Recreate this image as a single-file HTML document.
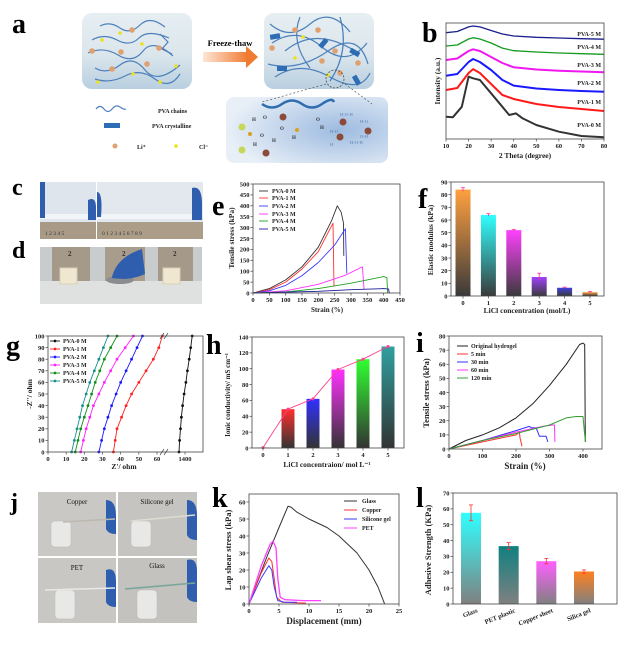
<!DOCTYPE html>
<html><head><meta charset="utf-8">
<style>
html,body{margin:0;padding:0;background:#fff;}
svg{display:block;font-family:"Liberation Serif",serif;}
.tk{font-size:6.5px;font-weight:bold;fill:#222;}
.at{font-size:7.5px;font-weight:bold;fill:#222;}
.lg{font-size:6px;font-weight:bold;fill:#222;}
.pl{font-size:28px;font-weight:bold;fill:#000;}
</style></head>
<body>
<svg id="fig" width="624" height="648" viewBox="0 0 624 648" xmlns="http://www.w3.org/2000/svg">
<defs>
<linearGradient id="boxg" x1="0" y1="0" x2="0" y2="1"><stop offset="0" stop-color="#e6eef2"/><stop offset="0.55" stop-color="#dbe6ec"/><stop offset="1" stop-color="#b9cfe0"/></linearGradient>
<radialGradient id="zoomg" cx="0.7" cy="0.5" r="0.7"><stop offset="0" stop-color="#9dbbe0"/><stop offset="1" stop-color="#e8eff7"/></radialGradient>
<linearGradient id="arrowg" x1="0" x2="1"><stop offset="0" stop-color="#fde6d6"/><stop offset="1" stop-color="#f07a30"/></linearGradient>
</defs>

<!-- Panel a -->
<g>
<text class="pl" x="12" y="33">a</text>
<rect x="82" y="13" width="110" height="76" rx="10" fill="url(#boxg)"/>
<rect x="264" y="13" width="110" height="76" rx="10" fill="url(#boxg)"/>
<g fill="none" stroke="#4d80bb" stroke-width="1.2">
<path d="M100 26 q10 -5 20 2 t20 -3 t25 2"/><path d="M92 40 q12 -7 25 0 t22 -2 t30 0"/>
<path d="M88 53 q15 -7 30 2 t25 -4 t30 5"/><path d="M95 68 q12 7 25 -3 t25 5 t35 -5"/>
<path d="M95 79 q15 5 30 -3 t30 3 t25 -5"/><path d="M160 34 l8 8 l-6 7 l10 5"/>
<path d="M270 24 q20 17 40 0 t40 8"/><path d="M272 43 q25 -17 50 4 t45 -4"/><path d="M268 64 q30 8 60 -13 t40 13"/>
<path d="M275 77 q25 -17 55 0 t40 -4"/><path d="M300 17 q-10 25 10 51"/><path d="M340 17 q10 34 -10 64"/><path d="M285 51 q30 -25 70 0"/>
</g>
<g fill="#2c6db5"><rect x="270" y="34" width="10" height="5" transform="rotate(-10 275 36)"/><rect x="318" y="41" width="10" height="5" transform="rotate(-50 323 43)"/><rect x="350" y="50" width="10" height="5" transform="rotate(30 355 52)"/><rect x="277" y="66" width="10" height="5"/><rect x="352" y="78" width="10" height="5" transform="rotate(60 357 80)"/></g>
<g fill="#e0a070"><circle cx="132" cy="30" r="2.8"/><circle cx="92" cy="51" r="2.8"/><circle cx="121" cy="52" r="2.8"/><circle cx="159" cy="48" r="2.8"/><circle cx="112" cy="69" r="2.8"/><circle cx="147" cy="64" r="2.8"/><circle cx="295" cy="30" r="2.8"/><circle cx="318" cy="30" r="2.8"/><circle cx="272" cy="48" r="2.8"/><circle cx="322" cy="61" r="2.8"/><circle cx="358" cy="63" r="2.8"/><circle cx="340" cy="73" r="2.8"/><circle cx="335" cy="51" r="2.8"/></g>
<g fill="#ece21c"><circle cx="120" cy="33" r="1.8"/><circle cx="102" cy="40" r="1.8"/><circle cx="142" cy="44" r="1.8"/><circle cx="133" cy="74" r="1.8"/><circle cx="176" cy="66" r="1.8"/><circle cx="98" cy="82" r="1.8"/><circle cx="160" cy="82" r="1.8"/><circle cx="303" cy="37" r="1.8"/><circle cx="295" cy="58" r="1.8"/><circle cx="328" cy="75" r="1.8"/></g>
<rect x="203" y="52" width="45" height="10" fill="url(#arrowg)"/><polygon points="246,46 258,57 246,68" fill="#f07a30"/>
<text x="230" y="46" text-anchor="middle" style="font-size:8.5px;font-weight:bold">Freeze-thaw</text>
<path d="M96 109 q4 -5 8 0 t8 0 t8 -2 t6 2" fill="none" stroke="#4d80bb" stroke-width="1.2"/>
<text x="158" y="113" class="lg">PVA chains</text>
<rect x="104" y="123" width="16" height="5" fill="#2c6db5"/>
<text x="152" y="128" class="lg">PVA crystalline</text>
<circle cx="115" cy="146" r="2.5" fill="#e0a070"/><text x="137" y="149" class="lg">Li⁺</text>
<circle cx="176" cy="146" r="1.8" fill="#ece21c"/><text x="199" y="149" class="lg">Cl⁻</text>
<rect x="226" y="97" width="162" height="66" rx="8" fill="url(#zoomg)"/>
<circle cx="335" cy="79" r="9" fill="none" stroke="#444" stroke-dasharray="2,1.5" stroke-width="0.8"/>
<line x1="326" y1="84" x2="262" y2="102" stroke="#444" stroke-dasharray="2,2" stroke-width="0.6"/>
<line x1="345" y1="84" x2="372" y2="104" stroke="#444" stroke-dasharray="2,2" stroke-width="0.6"/>
<path d="M262 104 q10 7 20 0 t20 0 t20 0 t12 -2" fill="none" stroke="#2e6db0" stroke-width="2.5"/>
<g fill="#8b4a3a"><circle cx="283" cy="117" r="3.5"/><circle cx="266" cy="153" r="3.5"/><circle cx="343" cy="122" r="3.5"/><circle cx="340" cy="137" r="3.5"/><circle cx="368" cy="131" r="3.5"/></g>
<g fill="#c6d85a"><circle cx="242" cy="127" r="3.5"/><circle cx="242" cy="150" r="3.5"/></g><g fill="#d8a020"><circle cx="250" cy="134" r="2"/><circle cx="297" cy="130" r="2"/></g>
<g style="font-size:5px;font-weight:bold" fill="#333"><text x="252" y="121">H</text><text x="263" y="119">O</text><text x="280" y="130">O</text><text x="260" y="137">O</text><text x="253" y="146">H</text><text x="272" y="142">H</text><text x="292" y="139">H</text><text x="316" y="121">O</text><text x="320" y="129">H</text></g>
<g style="font-size:4.5px" fill="#5a7fb0"><text x="340" y="116">H-O-H</text><text x="360" y="123">H-O</text><text x="330" y="133">H-O</text><text x="350" y="144">H-O-H</text><text x="360" y="138">O-H</text><text x="330" y="146">H</text></g>
</g>

<!-- photos -->
<g>
<text class="pl" x="12" y="195" style="font-size:24px">c</text>
<rect x="40" y="182" width="56" height="57" fill="#dfe5ec"/><rect x="97" y="182" width="106" height="57" fill="#e2e8ee"/>
<rect x="40" y="222" width="56" height="17" fill="#a89a86"/><rect x="97" y="222" width="106" height="17" fill="#ab9d88"/>
<rect x="40" y="214" width="162" height="5" fill="#f4f6f8" opacity="0.9"/>
<path d="M40 182 h5 v36 h-5z M88 200 q8 -4 8 8 v12 h-8z M97 192 q6 0 4 25 h-4z M192 188 q10 -3 10 16 v16 h-10z" fill="#2e5ead"/>
<g style="font-size:5.5px" fill="#333"><text x="45" y="235">1 2 3 4 5</text><text x="102" y="235">0  1  2  3  4  5  6  7  8  9</text></g>
</g>
<g>
<text class="pl" x="12" y="258" style="font-size:24px">d</text>
<rect x="40" y="247" width="162" height="57" fill="#dfe1e1"/>
<rect x="52" y="247" width="38" height="34" fill="#a5998a"/><rect x="105" y="247" width="40" height="34" fill="#a89c8c"/><rect x="158" y="247" width="35" height="34" fill="#a5998a"/>
<rect x="40" y="247" width="12" height="34" fill="#c9cccc"/><rect x="90" y="247" width="15" height="34" fill="#c9cccc"/><rect x="145" y="247" width="13" height="34" fill="#c9cccc"/><rect x="193" y="247" width="9" height="34" fill="#c9cccc"/>
<rect x="60" y="268" width="17" height="16" fill="#efe7cf" stroke="#d8d0b4"/><rect x="163" y="268" width="17" height="16" fill="#efe7cf" stroke="#d8d0b4"/>
<ellipse cx="120" cy="280" rx="14" ry="4" fill="#8a8c90"/><path d="M112 277 q5 -20 30 -28 l3 25 q-15 7 -33 4z" fill="#2e5ead"/>
<g style="font-size:7px;font-weight:bold" fill="#333"><text x="68" y="256">2</text><text x="122" y="256">2</text><text x="173" y="256">2</text></g>
</g>
<g>
<text class="pl" x="10" y="510" style="font-size:24px">j</text>
<rect x="38" y="492" width="159" height="131" fill="#fff"/>
<rect x="38" y="492" width="78" height="64" fill="#c9c8c5"/><rect x="118" y="492" width="79" height="64" fill="#c5c4c1"/>
<rect x="38" y="558" width="78" height="65" fill="#c8c7c4"/><rect x="118" y="558" width="79" height="65" fill="#c3c2bf"/>
<g fill="#2e5ead"><path d="M106 500 q10 0 10 16 v18 q-8 0 -10 -5z"/><path d="M187 500 q10 0 10 16 v24 q-8 0 -10 -5z"/><path d="M106 570 q10 -4 10 12 v25 q-8 0 -10 -5z"/><path d="M187 560 q10 -3 10 12 v30 q-8 0 -10 -5z"/></g>
<g fill="#e8e8e6" stroke="#bbb" stroke-width="0.5"><rect x="51" y="521" width="20" height="26" rx="4"/><rect x="131" y="521" width="20" height="26" rx="4"/><rect x="55" y="590" width="20" height="29" rx="4"/><rect x="137" y="590" width="20" height="29" rx="4"/></g>
<g stroke-width="1.6"><line x1="63" y1="522" x2="115" y2="519" stroke="#bdb8b0"/><line x1="131" y1="521" x2="195" y2="515" stroke="#dedbd0"/><line x1="45" y1="590" x2="115" y2="588" stroke="#e8e8e8"/><line x1="125" y1="589" x2="195" y2="583" stroke="#7aa69a"/></g>
<g style="font-size:7px" fill="#111" text-anchor="middle"><text x="77" y="504">Copper</text><text x="157" y="504">Silicone gel</text><text x="77" y="570">PET</text><text x="157" y="568">Glass</text></g>
</g>
</svg>
<script>
// ---------- data ----------
const bX=[10,15,20,22,25,30,35,40,50,60,70,80];
const b5=[91.6,92.7,96.6,97.4,96.6,93.5,90.5,88.8,87.7,87.1,86.5,86.0];
const b4=[80.2,81.0,86.2,87.3,86.2,82.8,78.4,76.1,75.0,74.1,73.5,73.0];
const b3=[68.1,69.4,75.9,77.3,75.9,70.7,65.5,61.8,59.9,58.9,58.2,57.5];
const b2=[54.6,56.0,66.4,69.0,66.4,59.5,50.9,46.0,43.5,42.2,41.4,40.8];
const b1=[42.2,44.0,56.9,60.3,56.9,47.4,37.9,34.5,30.2,27.6,25.9,24.1];
const b0X=[10,13,17,20,22,25,30,35,38,41,44,50,60,70,80];
const b0=[19.2,18.7,27.8,53.7,52.3,50.9,39.4,27.8,20.7,22.1,17.8,12.1,6.3,2.6,1.5];
const bLabels=["PVA-5 M","PVA-4 M","PVA-3 M","PVA-2 M","PVA-1 M","PVA-0 M"];
const bTicks=[10,20,30,40,50,60,70,80];

const eNames=["PVA-0 M","PVA-1 M","PVA-2 M","PVA-3 M","PVA-4 M","PVA-5 M"];
const e0s=[0,50,100,150,200,240,258,270,277,278];const e0t=[0,20,60,120,210,330,400,370,320,170];
const e1s=[0,50,100,150,200,245,248];const e1t=[0,15,50,110,190,320,30];
const e2s=[0,50,100,150,200,250,283,287];const e2t=[0,10,35,80,140,220,295,90];
const e3s=[0,100,200,280,335,340];const e3t=[0,10,40,80,120,15];
const e4s=[0,100,200,300,400,410,412];const e4t=[0,5,20,45,75,70,0];
const e5s=[0,200,300,400,415,417];const e5t=[0,8,15,20,18,0];
const eXT=[0,50,100,150,200,250,300,350,400,450];const eYT=[0,50,100,150,200,250,300,350,400,450,500];

const fCats=[0,1,2,3,4,5];const fVals=[84,64,52,15,6.5,3];const fErr=[1.5,1,0.6,3,0.5,0.5];
const fYT=[0,10,20,30,40,50,60,70,80,90];

const gNames=["PVA-0 M","PVA-1 M","PVA-2 M","PVA-3 M","PVA-4 M","PVA-5 M"];
const gZi=[0,10,20,30,40,50,60,70,80,90,100];
const g0=[1380,1382,1385,1388,1392,1397,1403,1408,1414,1419,1424];
const g1=[36,37,38,40.5,43,46,50,54,58,61,63];
const g2=[28,29.5,31,33,35,37.5,40,43,46,49,52];
const g3=[18,19.5,21,23,25,28,31,34.5,38,42.5,47];
const g4=[15,16.5,18,20,22,24,26,28.5,31,34.5,38];
const g5=[13,14.5,16,17.5,19,21,23,25.5,28,30.5,33];
const gXT=[0,10,20,30,40,50,60];const gYT=[0,10,20,30,40,50,60,70,80,90,100];

const hCats=[0,1,2,3,4,5];const hVals=[0.5,49,62,99,112,128];const hYT=[0,20,40,60,80,100,120,140];

const iNames=["Original hydrogel","5 min","30 min","60 min","120 min"];
const i0s=[0,50,100,150,200,250,300,350,390,400,405,407];const i0t=[0,6,10,15,22,32,45,60,74,75,74,5];
const i1s=[0,100,200,210,212,218];const i1t=[0,5,10,12,8,2];
const i2s=[0,100,200,240,245,260,270,290,295];const i2t=[0,6,13,16,15,15,9,9,5];
const i3s=[0,100,200,280,310,315,316];const i3t=[0,6,12,16,17,17,5];
const i4s=[0,100,200,300,350,380,400,405,408];const i4t=[0,6,11,17,22,23,23,10,5];
const iXT=[0,100,200,300,400];const iYT=[0,10,20,30,40,50,60,70,80];

const kNames=["Glass","Copper","Silicone gel","PET"];
const k0d=[0,3,5,6.5,7,8,10,13,15,18,20,21.5,22.5,22.6];const k0s=[0,28,45,57.5,57,54,50,45,40,30,20,10,1,0];
const k1d=[0,2,3.3,3.8,4.2,4.6,5.5,9.5];const k1s=[0,18,27,25,15,4,1,0.5];
const k2d=[0,2,3.3,3.8,4.2,4.8,6,8];const k2s=[0,15,22.5,20,10,2,1,1];
const k3d=[0,2,3.5,4,4.5,4.8,5.2,6,9,12];const k3s=[0,22,35,37,33,15,4,2.5,2,2];
const kXT=[0,5,10,15,20,25];const kYT=[0,10,20,30,40,50,60];

const lCats=["Glass","PET plastic","Copper sheet","Silica gel"];const lVals=[57.5,36.5,27,20.5];const lErr=[5,2.2,1.7,1];
const lYT=[0,10,20,30,40,50,60,70];

// ---------- helpers ----------
const NS='http://www.w3.org/2000/svg';
const svg=document.getElementById('fig');
const defs=svg.querySelector('defs');
function mk(tag,attrs,parent){const e=document.createElementNS(NS,tag);for(const k in attrs)e.setAttribute(k,attrs[k]);(parent||svg).appendChild(e);return e;}
function nm(e,n,i){


return e;}
function txt(s,x,y,cls,parent,extra){const t=mk('text',Object.assign({x:x,y:y,class:cls},extra||{}),parent);t.textContent=s;return t;}
function lin(d0,d1,r0,r1){return v=>r0+(v-d0)*(r1-r0)/(d1-d0);}
function poly(xs,ys,sx,sy,color,w,parent){const p=xs.map((v,i)=>sx(v).toFixed(1)+','+sy(ys[i]).toFixed(1)).join(' ');return mk('polyline',{points:p,fill:'none',stroke:color,'stroke-width':w||1,'stroke-linejoin':'round'},parent);}
function frame(g,x0,y0,x1,y1){const r=mk('rect',{x:x0,y:y0,width:x1-x0,height:y1-y0,fill:'none',stroke:'#444','stroke-width':0.8},g);nm(r,'plot-frame',false);}
function xt(g,sx,vals,y,labels,size){vals.forEach((v,i)=>{mk('line',{x1:sx(v),x2:sx(v),y1:y,y2:y+2.5,stroke:'#444','stroke-width':0.7},g);const t=txt(labels?labels[i]:String(v),sx(v),y+9,'tk',g,{'text-anchor':'middle'});if(size)t.style.fontSize=size+'px';nm(t,'x-tick-label',false);});}
function yt(g,sy,vals,x){vals.forEach(v=>{mk('line',{x1:x-2.5,x2:x,y1:sy(v),y2:sy(v),stroke:'#444','stroke-width':0.7},g);const t=txt(String(v),x-3.5,sy(v)+2.3,'tk',g,{'text-anchor':'end'});nm(t,'y-tick-label',false);});}
function ylab(g,s,x,y,size){const t=txt(s,x,y,'at',g,{'text-anchor':'middle',transform:'rotate(-90 '+x+' '+y+')'});if(size)t.style.fontSize=size+'px';nm(t,'y-axis-title',false);return t;}
function xlab(g,s,x,y,size){const t=txt(s,x,y,'at',g,{'text-anchor':'middle'});if(size)t.style.fontSize=size+'px';nm(t,'x-axis-title',false);return t;}
function panelLabel(s,x,y){const t=txt(s,x,y,'pl');nm(t,'panel-label-'+s,false);}
let gid=0;
function grad(top,bottom){const id='gr'+(gid++);const lg=mk('linearGradient',{id:id,x1:0,y1:0,x2:0,y2:1},defs);mk('stop',{offset:0,'stop-color':top},lg);mk('stop',{offset:1,'stop-color':bottom},lg);return 'url(#'+id+')';}
function group(n){const g=mk('g',{});nm(g,n,false);return g;}

// ---------- b ----------
(function(){const g=group('panel-b-xrd-chart');panelLabel('b',422,42);
const X0=446,X1=604,Y0=23,Y1=139;const sx=lin(10,80,X0,X1),sy=lin(0,100,Y1,Y0);
const cols=['#1b1f8c','#169a20','#f018f0','#1a1aff','#ff1a1a','#333'];const sets=[b5,b4,b3,b2,b1];
sets.forEach((s,i)=>{const p=poly(bX,s,sx,sy,cols[i],i<2?1.3:2,g);nm(p,'xrd-line-'+bLabels[i].toLowerCase().replace(/ /g,''),false);});
const p0=poly(b0X,b0,sx,sy,cols[5],2,g);nm(p0,'xrd-line-pva-0m',false);
const ly=[34,47,65,83,102,125];bLabels.forEach((s,i)=>{const t=txt(s,601,ly[i]+2,'lg',g,{'text-anchor':'end'});nm(t,'series-label',false);});
frame(g,X0,Y0,X1,Y1);xt(g,sx,bTicks,Y1);xlab(g,'2 Theta (degree)',525,158);ylab(g,'Intensity (a.u.)',440,81);})();

// ---------- e ----------
(function(){const g=group('panel-e-tensile-chart');panelLabel('e',212,215);
const X0=253,X1=400,Y0=184,Y1=293;const sx=lin(0,450,X0,X1),sy=lin(0,500,Y1,Y0);
const cols=['#333','#ff3030','#3a3aff','#ff30ff','#20a020','#1a1a9a'];const S=[e0s,e1s,e2s,e3s,e4s,e5s],T=[e0t,e1t,e2t,e3t,e4t,e5t];
S.forEach((s,i)=>{const p=poly(s,T[i],sx,sy,cols[i],0.9,g);nm(p,'stress-strain-'+eNames[i].toLowerCase().replace(/ /g,''),false);});
const ly=[191,198,206,214,221,229];eNames.forEach((s,i)=>{const l=mk('line',{x1:259,x2:268,y1:ly[i],y2:ly[i],stroke:cols[i],'stroke-width':0.9},g);nm(l,'legend-swatch',false);const t=txt(s,272,ly[i]+2,'lg',g);nm(t,'legend-entry',false);});
frame(g,X0,Y0,X1,Y1);xt(g,sx,eXT,Y1);yt(g,sy,eYT,X0);xlab(g,'Strain (%)',327,312,7);ylab(g,'Tensile stress (kPa)',234,238);})();

// ---------- f ----------
(function(){const g=group('panel-f-modulus-chart');panelLabel('f',418,208);
const X0=451,X1=604,Y0=182,Y1=296;const sx=lin(0,5,463,590),sy=lin(0,90,Y1,Y0);
const tops=['#ffa040','#30ffff','#ff40ff','#a040ff','#4040e0','#ffa040'];
fCats.forEach((c,i)=>{const r=mk('rect',{x:sx(c)-7.5,y:sy(fVals[i]),width:15,height:Y1-sy(fVals[i]),fill:grad(tops[i],'#3a3a3a')},g);nm(r,'bar-'+c,false);
const e=mk('line',{x1:sx(c),x2:sx(c),y1:sy(fVals[i]+fErr[i]),y2:sy(fVals[i]-fErr[i]),stroke:'#ff3090','stroke-width':0.8},g);nm(e,'error-bar',false);
mk('line',{x1:sx(c)-2,x2:sx(c)+2,y1:sy(fVals[i]+fErr[i]),y2:sy(fVals[i]+fErr[i]),stroke:'#ff3090','stroke-width':0.8},g);});
frame(g,X0,Y0,X1,Y1);xt(g,sx,fCats,Y1);yt(g,sy,fYT,X0);xlab(g,'LiCl concentration (mol/L)',527,313);ylab(g,'Elastic modulus (kPa)',433,240);})();

// ---------- g ----------
(function(){const g=group('panel-g-nyquist-chart');panelLabel('g',6,355);
const X0=48,X1=203,Y0=336,Y1=452;const sxL=lin(0,60,48,157),sxR=lin(1400,1450,185,200),sy=lin(0,100,Y1,Y0);
const sxa=v=>v>=1000?sxR(v):sxL(v);
const cols=['#111','#ff2020','#1a1aff','#ff20ff','#10901a','#1a8f8f'];const S=[g0,g1,g2,g3,g4,g5];
S.forEach((s,i)=>{const p=poly(s,gZi,sxa,sy,cols[i],0.9,g);nm(p,'nyquist-'+gNames[i].toLowerCase().replace(/ /g,''),false);
s.forEach((v,j)=>{const c=mk('circle',{cx:sxa(v),cy:sy(gZi[j]),r:1.4,fill:cols[i]},g);nm(c,'data-point',false);});});
frame(g,X0,Y0,X1,Y1);
const brk=mk('g',{},g);nm(brk,'axis-break',false);[162,166].forEach(x=>{mk('line',{x1:x-2,x2:x+2,y1:Y0+3,y2:Y0-3,stroke:'#444','stroke-width':0.7},brk);mk('line',{x1:x-2,x2:x+2,y1:Y1+3,y2:Y1-3,stroke:'#444','stroke-width':0.7},brk);});
xt(g,sxL,gXT,Y1);xt(g,sxR,[1400],Y1);yt(g,sy,gYT,X0);xlab(g,"Z'/ ohm",124,469);ylab(g,"-Z''/ ohm",32,394);
const ly=[341,349,357,365,373,381];gNames.forEach((s,i)=>{const l=mk('line',{x1:50,x2:60,y1:ly[i],y2:ly[i],stroke:cols[i],'stroke-width':0.9},g);nm(l,'legend-swatch',false);mk('circle',{cx:55,cy:ly[i],r:1.4,fill:cols[i]},g);const t=txt(s,63,ly[i]+2,'lg',g);nm(t,'legend-entry',false);});})();

// ---------- h ----------
(function(){const g=group('panel-h-conductivity-chart');panelLabel('h',206,354);
const X0=252,X1=404,Y0=337,Y1=448;const sx=lin(0,5,263,388),sy=lin(0,140,Y1,Y0);
const tops=['#30d030','#ff3030','#3030ff','#ff30ff','#30ff30','#30a0a0'];
hCats.forEach((c,i)=>{const r=mk('rect',{x:sx(c)-6.5,y:sy(hVals[i]),width:13,height:Y1-sy(hVals[i]),fill:grad(tops[i],'#333')},g);nm(r,'bar-'+c,false);});
const p=poly(hCats,hVals,sx,sy,'#ff4090',0.9,g);nm(p,'trend-line',false);
hCats.forEach((c,i)=>{const m=mk('circle',{cx:sx(c),cy:sy(hVals[i]),r:1.5,fill:'#ff4090'},g);nm(m,'data-point',false);});
frame(g,X0,Y0,X1,Y1);xt(g,sx,hCats,Y1);yt(g,sy,hYT,X0);xlab(g,'LiCl concentraion/ mol L⁻¹',327,467);ylab(g,'Ionic conductivity/ mS cm⁻¹',230,395,7);})();

// ---------- i ----------
(function(){const g=group('panel-i-healing-chart');panelLabel('i',416,352);
const X0=449,X1=602,Y0=336,Y1=449;const sx=lin(0,400,449,583),sy=lin(0,80,Y1,Y0);
const cols=['#222','#ff3030','#3030ff','#ff30ff','#30a030'];const S=[i0s,i1s,i2s,i3s,i4s],T=[i0t,i1t,i2t,i3t,i4t];
S.forEach((s,i)=>{const p=poly(s,T[i],sx,sy,cols[i],1,g);nm(p,'healing-curve-'+iNames[i].toLowerCase().replace(/ /g,'-'),false);});
const ly=[346,354,362,370,378];iNames.forEach((s,i)=>{const l=mk('line',{x1:457,x2:468,y1:ly[i],y2:ly[i],stroke:cols[i],'stroke-width':1},g);nm(l,'legend-swatch',false);const t=txt(s,471,ly[i]+2,'lg',g);nm(t,'legend-entry',false);});
frame(g,X0,Y0,X1,Y1);xt(g,sx,iXT,Y1);yt(g,sy,iYT,X0);xlab(g,'Strain (%)',525,469,9);ylab(g,'Tensile stress (kPa)',429,393,8.5);})();

// ---------- k ----------
(function(){const g=group('panel-k-lapshear-chart');panelLabel('k',212,507);
const X0=249,X1=399,Y0=494,Y1=604;const sx=lin(0,25,X0,X1),sy=lin(0,64.7,Y1,Y0);
const cols=['#333','#ff3030','#3a3aff','#ff40ff'];const D=[k0d,k1d,k2d,k3d],Sv=[k0s,k1s,k2s,k3s];
D.forEach((d,i)=>{const p=poly(d,Sv[i],sx,sy,cols[i],i==3?1.3:1,g);nm(p,'lapshear-'+kNames[i].toLowerCase().replace(/ /g,'-'),false);});
const ly=[501,510,519,528];kNames.forEach((s,i)=>{const l=mk('line',{x1:344,x2:357,y1:ly[i],y2:ly[i],stroke:cols[i],'stroke-width':1},g);nm(l,'legend-swatch',false);const t=txt(s,362,ly[i]+2,'lg',g);nm(t,'legend-entry',false);});
frame(g,X0,Y0,X1,Y1);xt(g,sx,kXT,Y1);yt(g,sy,kYT,X0);xlab(g,'Displacement (mm)',324,624,9);ylab(g,'Lap shear stress (kPa)',231,550,8.5);})();

// ---------- l ----------
(function(){const g=group('panel-l-adhesion-chart');panelLabel('l',416,507);
const X0=453,X1=617,Y0=493,Y1=604;const sy=lin(0,70,Y1,Y0);const sx=lin(0,3,471,584);
const tops=['#30ffff','#108080','#ff60ff','#ff8020'];
lVals.forEach((v,i)=>{const r=mk('rect',{x:sx(i)-10,y:sy(v),width:20,height:Y1-sy(v),fill:grad(tops[i],'#808080')},g);nm(r,'bar-'+lCats[i].toLowerCase().replace(/ /g,'-'),false);
const e=mk('line',{x1:sx(i),x2:sx(i),y1:sy(v+lErr[i]),y2:sy(v-lErr[i]),stroke:'#ff3030','stroke-width':0.8},g);nm(e,'error-bar',false);
mk('line',{x1:sx(i)-2,x2:sx(i)+2,y1:sy(v+lErr[i]),y2:sy(v+lErr[i]),stroke:'#ff3030','stroke-width':0.8},g);mk('line',{x1:sx(i)-2,x2:sx(i)+2,y1:sy(v-lErr[i]),y2:sy(v-lErr[i]),stroke:'#ff3030','stroke-width':0.8},g);
const t=txt(lCats[i],sx(i)+7,Y1+8,'tk',g,{'text-anchor':'end',transform:'rotate(-22 '+(sx(i)+7)+' '+(Y1+8)+')'});nm(t,'x-tick-label',false);});
frame(g,X0,Y0,X1,Y1);yt(g,sy,lYT,X0);ylab(g,'Adhesive Strength (KPa)',431,550,8.5);})();
</script>
</body></html>
